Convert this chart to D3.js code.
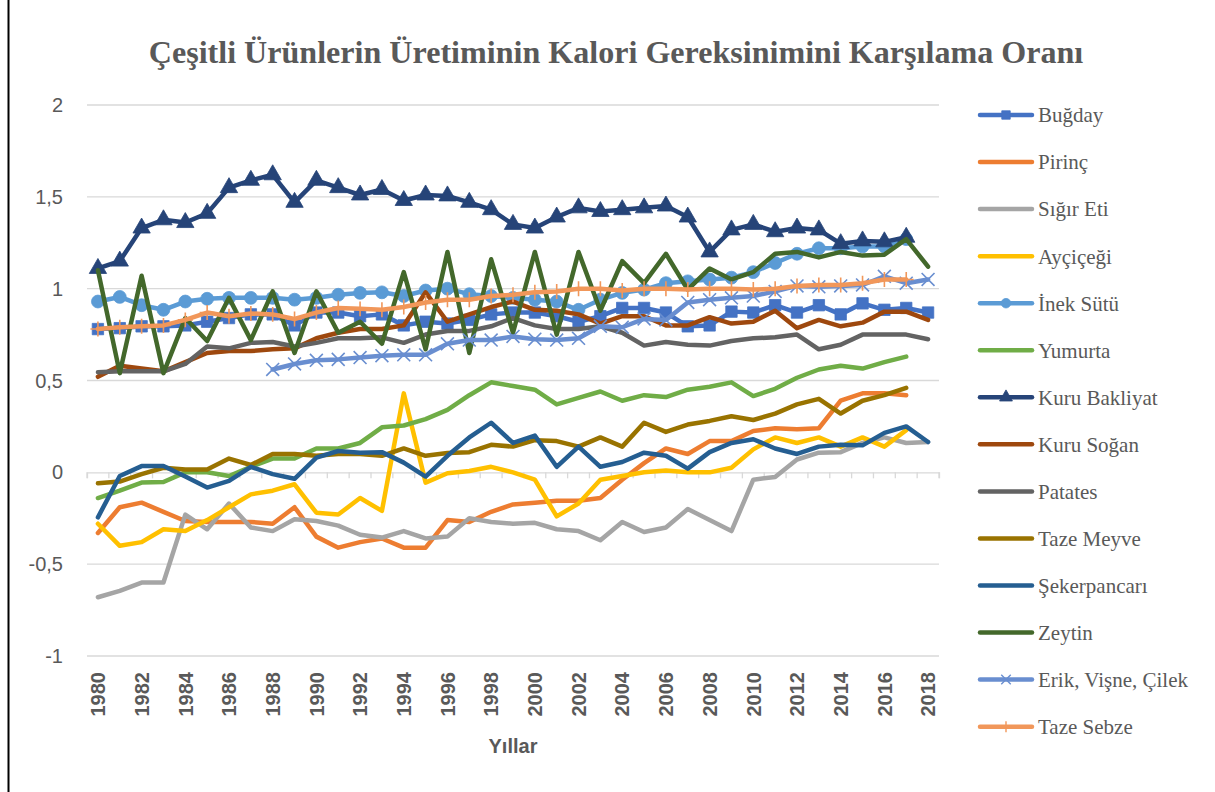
<!DOCTYPE html>
<html>
<head>
<meta charset="utf-8">
<script src="https://cdn.jsdelivr.net/npm/d3@7"></script>
<style>
  body { margin: 0; background: #fff; }
  svg { display: block; }
</style>
</head>
<body>
<div id="chart"></div>
<script>
let width = 1215, height = 792;

const years = d3.range(1980, 2019).map(String);
const yTicks = [-1, -0.5, 0, 0.5, 1, 1.5, 2];

const bugday = [0.78,0.785,0.795,0.795,0.80,0.82,0.84,0.86,0.86,0.80, 0.87,0.87,0.85,0.86,0.80,0.82,0.81,0.83,0.86,0.87, 0.87,0.85,0.82,0.85,0.895,0.895,0.87,0.795,0.80,0.875, 0.87,0.91,0.87,0.91,0.86,0.92,0.885,0.895,0.87];
const pirinc = [-0.33,-0.19,-0.165,-0.215,-0.265,-0.27,-0.27,-0.27,-0.28,-0.19, -0.35,-0.41,-0.38,-0.36,-0.41,-0.41,-0.26,-0.27,-0.215,-0.175, -0.165,-0.155,-0.155,-0.14,-0.04,0.05,0.13,0.10,0.17,0.17, 0.225,0.24,0.235,0.24,0.39,0.43,0.43,0.42,null];
const sigirEti = [-0.68,-0.645,-0.60,-0.60,-0.23,-0.31,-0.17,-0.30,-0.32,-0.255, -0.265,-0.29,-0.34,-0.355,-0.32,-0.36,-0.35,-0.25,-0.27,-0.28, -0.275,-0.31,-0.32,-0.37,-0.27,-0.325,-0.30,-0.20,-0.26,-0.32, -0.04,-0.025,0.07,0.107,0.11,0.16,0.19,0.16,0.165];
const aycicegi = [-0.28,-0.40,-0.38,-0.31,-0.32,-0.26,-0.19,-0.12,-0.10,-0.065, -0.22,-0.23,-0.14,-0.21,0.43,-0.056,-0.005,0.007,0.03,0.0, -0.04,-0.24,-0.17,-0.04,-0.02,0.0,0.01,0.0,0.0,0.025, 0.125,0.19,0.16,0.19,0.14,0.19,0.14,0.23,null];
const inekSutu = [0.93,0.955,0.91,0.885,0.93,0.945,0.95,0.95,0.95,0.94, 0.95,0.967,0.977,0.98,0.96,0.99,1.0,0.97,0.96,0.95, 0.94,0.93,0.885,0.94,0.977,0.995,1.03,1.04,1.05,1.06, 1.09,1.14,1.19,1.22,1.22,1.23,1.23,1.27,null];
const yumurta = [-0.14,-0.10,-0.056,-0.053,0.0,0.0,-0.02,0.03,0.075,0.075, 0.13,0.13,0.16,0.245,0.255,0.29,0.34,0.42,0.49,0.47, 0.45,0.37,0.405,0.44,0.39,0.42,0.41,0.45,0.466,0.49, 0.415,0.455,0.515,0.56,0.58,0.565,0.60,0.63,null];
const kuruBakliyat = [1.11,1.15,1.33,1.375,1.36,1.41,1.55,1.59,1.62,1.47, 1.59,1.55,1.51,1.54,1.48,1.51,1.505,1.47,1.43,1.35, 1.33,1.39,1.44,1.42,1.43,1.44,1.45,1.39,1.20,1.32, 1.35,1.31,1.33,1.32,1.245,1.26,1.255,1.28,null];
const kuruSogan = [0.52,0.58,0.565,0.55,0.60,0.65,0.66,0.66,0.67,0.675, 0.73,0.76,0.78,0.78,0.80,0.98,0.82,0.86,0.90,0.93, 0.885,0.88,0.86,0.81,0.85,0.85,0.80,0.80,0.845,0.81, 0.82,0.88,0.785,0.83,0.795,0.815,0.875,0.875,0.83];
const patates = [0.545,0.55,0.55,0.55,0.59,0.685,0.675,0.705,0.71,0.685, 0.705,0.73,0.73,0.735,0.705,0.75,0.77,0.77,0.795,0.84, 0.80,0.78,0.78,0.795,0.76,0.69,0.71,0.695,0.69,0.715, 0.73,0.735,0.75,0.67,0.695,0.75,0.75,0.75,0.725];
const tazeMeyve = [-0.06,-0.05,-0.01,0.025,0.016,0.016,0.075,0.04,0.10,0.10, 0.09,0.10,0.10,0.09,0.13,0.09,0.105,0.11,0.15,0.14, 0.175,0.17,0.14,0.19,0.14,0.27,0.22,0.26,0.28,0.305, 0.285,0.32,0.37,0.40,0.32,0.39,0.42,0.46,null];
const sekerpancari = [-0.245,-0.02,0.034,0.034,-0.023,-0.083,-0.047,0.03,-0.01,-0.035, 0.08,0.116,0.107,0.11,0.053,-0.023,0.09,0.19,0.27,0.16, 0.20,0.03,0.14,0.03,0.056,0.107,0.09,0.02,0.11,0.16, 0.18,0.13,0.10,0.14,0.15,0.147,0.215,0.25,0.165];
const zeytin = [1.10,0.54,1.07,0.54,0.84,0.715,0.95,0.72,0.985,0.65, 0.985,0.76,0.82,0.70,1.09,0.67,1.20,0.65,1.16,0.76, 1.20,0.75,1.20,0.88,1.15,1.03,1.19,0.995,1.11,1.05, 1.09,1.19,1.20,1.17,1.20,1.18,1.185,1.27,1.12];
const erikVisneCilek = [null,null,null,null,null,null,null,null,0.56,0.59, 0.61,0.615,0.625,0.635,0.64,0.64,0.70,0.72,0.72,0.74, 0.725,0.72,0.73,0.795,0.79,0.835,0.83,0.925,0.94,0.95, 0.96,0.985,1.015,1.01,1.015,1.02,1.067,1.03,1.05];
const tazeSebze = [0.78,0.79,0.795,0.80,0.83,0.87,0.85,0.865,0.86,0.835, 0.87,0.895,0.89,0.885,0.90,0.925,0.94,0.94,0.96,0.967, 0.98,0.985,1.0,1.0,0.99,1.0,1.0,0.995,1.0,1.0, 0.995,1.0,1.015,1.02,1.02,1.03,1.05,1.05,null];

const series = [
  { name: 'Buğday', values: bugday, color: '#4472C4', marker: 'square' },
  { name: 'Pirinç', values: pirinc, color: '#ED7D31' },
  { name: 'Sığır Eti', values: sigirEti, color: '#A5A5A5' },
  { name: 'Ayçiçeği', values: aycicegi, color: '#FFC000' },
  { name: 'İnek Sütü', values: inekSutu, color: '#5B9BD5', marker: 'circle' },
  { name: 'Yumurta', values: yumurta, color: '#70AD47' },
  { name: 'Kuru Bakliyat', values: kuruBakliyat, color: '#264478', marker: 'triangle' },
  { name: 'Kuru Soğan', values: kuruSogan, color: '#9E480E' },
  { name: 'Patates', values: patates, color: '#636363' },
  { name: 'Taze Meyve', values: tazeMeyve, color: '#997300' },
  { name: 'Şekerpancarı', values: sekerpancari, color: '#255E91' },
  { name: 'Zeytin', values: zeytin, color: '#43682B' },
  { name: 'Erik, Vişne, Çilek', values: erikVisneCilek, color: '#698ED0', marker: 'x' },
  { name: 'Taze Sebze', values: tazeSebze, color: '#F1975A', marker: 'plus' }
];

const svg = d3.select('#chart').append('svg')
  .attr('width', width)
  .attr('height', height);

svg.append('rect').attr('width', width).attr('height', height).attr('fill', '#fff');
svg.append('line')
  .attr('x1', 8.5).attr('x2', 8.5).attr('y1', 0).attr('y2', height)
  .attr('stroke', '#000').attr('stroke-width', 2);

const x = d3.scaleBand().domain(years).range([87, 939]);
const y = d3.scaleLinear().domain([-1, 2]).range([656, 105]);
const cx = (d) => x(d) + x.bandwidth() / 2;

// gridlines
svg.append('g').selectAll('line')
  .data(yTicks.filter(t => t !== 0))
  .join('line')
    .attr('x1', 87).attr('x2', 939)
    .attr('y1', d => y(d)).attr('y2', d => y(d))
    .attr('stroke', '#d9d9d9').attr('stroke-width', 1.3);

// y labels
svg.append('g').selectAll('text')
  .data(yTicks)
  .join('text')
    .attr('x', 63)
    .attr('y', d => y(d))
    .attr('dy', '0.35em')
    .attr('text-anchor', 'end')
    .attr('font-family', 'Liberation Sans, Arial, sans-serif')
    .attr('font-size', 20)
    .attr('fill', '#595959')
    .text(d => String(d).replace('.', ','));

// category axis at zero
const xAxis = d3.axisBottom(x).tickSize(6).tickFormat('');
const gx = svg.append('g')
  .attr('transform', `translate(0,${y(0)})`)
  .call(xAxis);
gx.select('.domain').attr('stroke', '#d9d9d9').attr('stroke-width', 1.3);
gx.selectAll('.tick').remove();
gx.append('g').selectAll('line')
  .data(d3.range(years.length + 1))
  .join('line')
    .attr('x1', i => 87 + i * x.step()).attr('x2', i => 87 + i * x.step())
    .attr('y1', 0).attr('y2', 6)
    .attr('stroke', '#d9d9d9').attr('stroke-width', 1.3);

// year labels
svg.append('g').selectAll('text')
  .data(years.filter((d, i) => i % 2 === 0))
  .join('text')
    .attr('transform', d => `translate(${cx(d)},672) rotate(-90)`)
    .attr('dy', '0.36em')
    .attr('text-anchor', 'end')
    .attr('font-family', 'Liberation Sans, Arial, sans-serif')
    .attr('font-weight', 'bold')
    .attr('font-size', 20)
    .attr('fill', '#595959')
    .text(d => d);

svg.append('text')
  .attr('x', 513).attr('y', 753)
  .attr('text-anchor', 'middle')
  .attr('font-family', 'Liberation Sans, Arial, sans-serif')
  .attr('font-weight', 'bold')
  .attr('font-size', 20)
  .attr('fill', '#595959')
  .text('Yıllar');

// title
const title = svg.append('text')
  .attr('x', 616).attr('y', 63)
  .attr('text-anchor', 'middle')
  .attr('font-family', 'Liberation Serif, Times New Roman, serif')
  .attr('font-weight', 'bold')
  .attr('font-size', 30)
  .attr('fill', '#595959')
  .text('Çeşitli Ürünlerin Üretiminin Kalori Gereksinimini Karşılama Oranı');
const tw = title.node().getComputedTextLength();
title.attr('font-size', 30 * 935 / tw);

const markerPath = (type, k = 1) => {
  if (type === 'square') return d3.symbol(d3.symbolSquare, 130 * k)();
  if (type === 'circle') return d3.symbol(d3.symbolCircle, 130 * k)();
  if (type === 'triangle') return d3.symbol(d3.symbolTriangle, 130 * k)();
  if (type === 'x') return d3.symbol(d3.symbolTimes, 110 * k)();
  if (type === 'plus') return d3.symbol(d3.symbolPlus, 75 * k)();
  return null;
};
const strokeMarker = (type) => type === 'x' || type === 'plus';

const line = d3.line()
  .defined(d => d.v !== null)
  .x(d => cx(d.year))
  .y(d => y(d.v));

// render data
const plot = svg.append('g');
series.forEach((s) => {
  const pts = years.map((yr, i) => ({ year: yr, v: s.values[i] }));
  const g = plot.append('g');
  g.append('path')
    .datum(pts)
    .attr('fill', 'none')
    .attr('stroke', s.color)
    .attr('stroke-width', 4.5)
    .attr('stroke-linejoin', 'round')
    .attr('stroke-linecap', 'round')
    .attr('d', line);
  if (s.marker) {
    g.selectAll('path.m')
      .data(pts.filter(d => d.v !== null))
      .join('path')
        .attr('class', 'm')
        .attr('transform', d => `translate(${cx(d.year)},${y(d.v)})`)
        .attr('d', markerPath(s.marker))
        .attr('fill', strokeMarker(s.marker) ? 'none' : s.color)
        .attr('stroke', s.color)
        .attr('stroke-width', strokeMarker(s.marker) ? 1.6 : 0.8);
  }
});

// legend
const legend = svg.append('g').selectAll('g')
  .data(series)
  .join('g')
    .attr('transform', (d, i) => `translate(0,${115 + i * 47.05})`);
legend.append('line')
  .attr('x1', 980).attr('x2', 1032)
  .attr('stroke', d => d.color)
  .attr('stroke-width', 4.5)
  .attr('stroke-linecap', 'round');
legend.filter(d => d.marker).append('path')
  .attr('transform', 'translate(1006,0)')
  .attr('d', d => markerPath(d.marker, 0.55))
  .attr('fill', d => strokeMarker(d.marker) ? 'none' : d.color)
  .attr('stroke', d => d.color)
  .attr('stroke-width', d => strokeMarker(d.marker) ? 1.4 : 0.8);
legend.append('text')
  .attr('x', 1038)
  .attr('dy', '0.35em')
  .attr('font-family', 'Liberation Serif, Times New Roman, serif')
  .attr('font-size', 21)
  .attr('fill', '#595959')
  .text(d => d.name);
</script>
</body>
</html>
